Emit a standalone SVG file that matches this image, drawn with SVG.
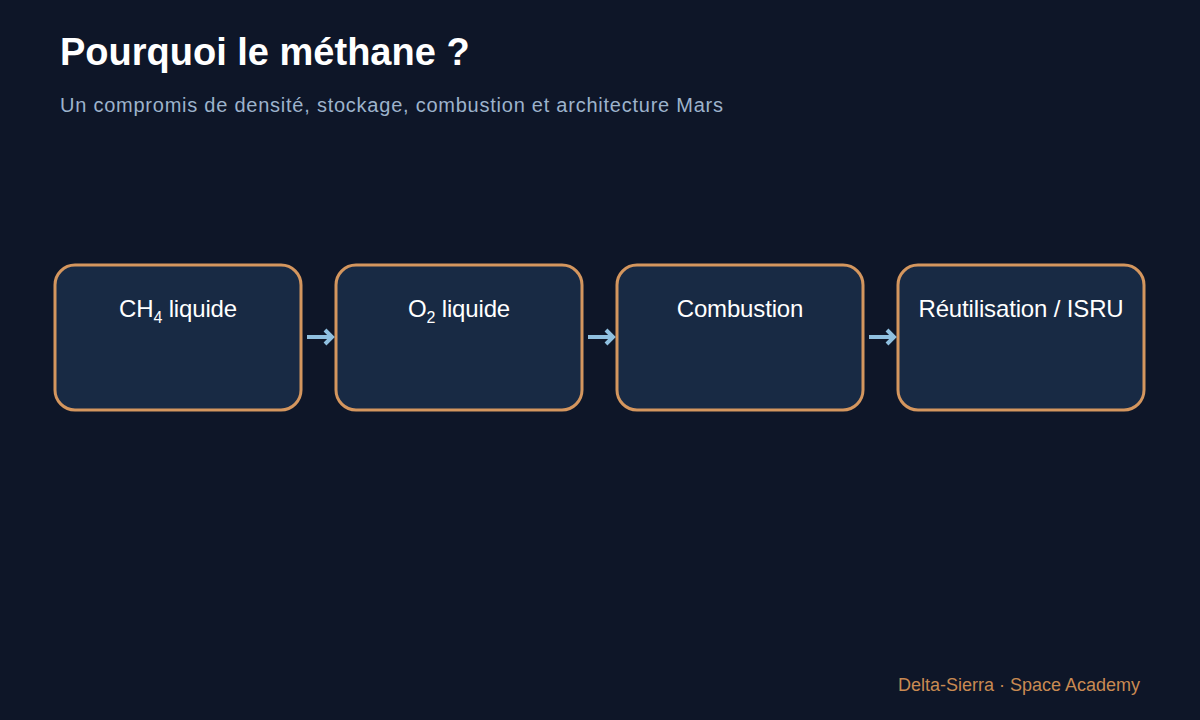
<svg xmlns="http://www.w3.org/2000/svg" width="1200" height="720" viewBox="0 0 1200 720">
<style>
.title{font-family:"Liberation Sans",Arial,sans-serif;font-weight:bold;font-size:38px;fill:#ffffff}
.sub{font-family:"Liberation Sans",Arial,sans-serif;font-size:20px;fill:#9db3cc;letter-spacing:0.76px}
.box{fill:#182a44;stroke:#d4965e;stroke-width:3}
.lbl{font-family:"Liberation Sans",Arial,sans-serif;font-size:24px;fill:#ffffff;text-anchor:middle;letter-spacing:-0.15px}
.sup{font-size:16px}
.arr{fill:none;stroke:#8fc0e0;stroke-width:4;stroke-linecap:butt;stroke-linejoin:miter}
.foot{font-family:"Liberation Sans",Arial,sans-serif;font-size:18px;fill:#c98a52;text-anchor:end}
</style>
<rect width="1200" height="720" fill="#0e1628"/>
<text class="title" x="60" y="65">Pourquoi le méthane ?</text>
<text class="sub" x="60" y="112">Un compromis de densité, stockage, combustion et architecture Mars</text>
<g id="node-ch4">
<rect class="box" x="55" y="265" width="246" height="145" rx="20"/>
<text class="lbl" x="178" y="317">CH<tspan class="sup" dy="6">4</tspan><tspan dy="-6"> liquide</tspan></text>
</g>
<g id="node-o2">
<rect class="box" x="336" y="265" width="246" height="145" rx="20"/>
<text class="lbl" x="459" y="317">O<tspan class="sup" dy="6">2</tspan><tspan dy="-6"> liquide</tspan></text>
</g>
<g id="node-combustion">
<rect class="box" x="617" y="265" width="246" height="145" rx="20"/>
<text class="lbl" x="740" y="317">Combustion</text>
</g>
<g id="node-reuse">
<rect class="box" x="898" y="265" width="246" height="145" rx="20"/>
<text class="lbl" x="1021" y="317">Réutilisation / ISRU</text>
</g>
<g id="connectors">
<path class="arr" d="M307 337 H331 M325 330 L332 337 L325 344"/>
<path class="arr" d="M588 337 H612 M606 330 L613 337 L606 344"/>
<path class="arr" d="M869 337 H893 M887 330 L894 337 L887 344"/>
</g>
<text class="foot" x="1140" y="691">Delta-Sierra · Space Academy</text>
</svg>
